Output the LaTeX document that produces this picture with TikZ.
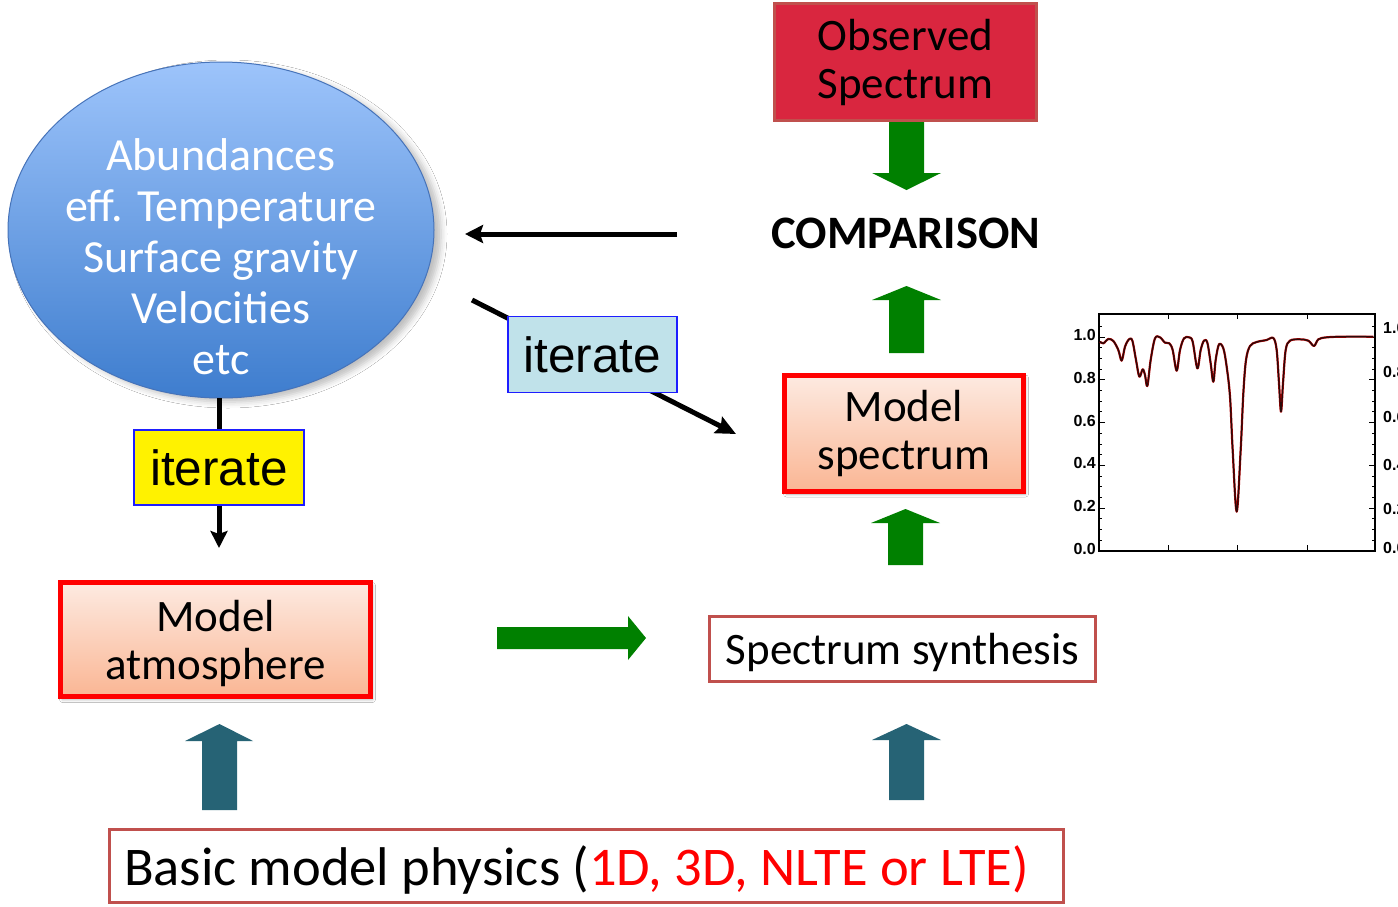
\documentclass[tikz,border=0pt]{standalone}
\usepackage{fontspec}
\setmainfont{Carlito}
\newfontfamily\arialf{Liberation Sans}
\usetikzlibrary{shapes.geometric,arrows.meta,shadows.blur}

\definecolor{obsred}{RGB}{217,38,63}
\definecolor{boxborder}{RGB}{192,80,77}
\definecolor{arrgreen}{RGB}{0,128,0}
\definecolor{arrteal}{RGB}{38,99,117}
\definecolor{elltop}{RGB}{157,196,251}
\definecolor{ellbot}{RGB}{62,125,206}
\definecolor{ellline}{RGB}{70,115,185}
\definecolor{modtop}{RGB}{253,234,225}
\definecolor{modbot}{RGB}{250,182,148}
\definecolor{itblue}{RGB}{192,226,234}
\definecolor{itline}{RGB}{30,30,255}
\definecolor{specline}{RGB}{70,15,15}

\begin{document}
\begin{tikzpicture}[x=1pt,y=-1pt,
  boxtext/.style={font=\fontsize{45}{48}\selectfont, align=center, inner sep=0pt},
  modelbox/.style={boxtext, draw=red, line width=5pt, top color=modtop, bottom color=modbot,
     blur shadow={shadow xshift=2pt, shadow yshift=-3pt, shadow blur radius=3pt, shadow opacity=30}},
  plainbox/.style={boxtext, draw=boxborder, line width=3pt, fill=white},
  iterbox/.style={font=\arialf\fontsize{49.5}{52}\selectfont, inner sep=0pt, line width=1.5pt, draw=itline},
  blackarrow/.style={draw=black, line width=5pt, -{Stealth[length=18pt,width=18pt,inset=3pt]}},
  tick/.style={line width=1pt},
  ticklabel/.style={font=\arialf\bfseries\fontsize{16}{17}\selectfont, inner sep=0pt}
]
\useasboundingbox (0,0) rectangle (1398,906);
\fill[white] (0,0) rectangle (1398,906);

% ---------- parameter ellipse ----------
\node[ellipse, minimum width=426pt, minimum height=336pt, inner sep=0pt,
      top color=elltop, bottom color=ellbot, draw=ellline, line width=1pt,
      blur shadow={shadow xshift=7pt, shadow yshift=-4pt, shadow blur radius=6pt, shadow opacity=25}]
      (params) at (221,230) {};
\node[text=white, font=\fontsize{46}{51}\selectfont, align=center, inner sep=0pt] (paramtext) at (221,257)
  {Abundances\\eff. Temperature\\Surface gravity\\Velocities\\etc};

% ---------- block arrows ----------
% green: observed -> comparison
\fill[arrgreen] (889,121) -- (924,121) -- (924,173) -- (941,173) -- (906.5,190) -- (872,173) -- (889,173) -- cycle;
% green: model spectrum -> comparison
\fill[arrgreen] (889,353) -- (924,353) -- (924,300) -- (941,300) -- (906.5,286) -- (872,300) -- (889,300) -- cycle;
% green: synthesis -> model spectrum
\fill[arrgreen] (888,565) -- (923,565) -- (923,523) -- (940,523) -- (905.5,509) -- (871,523) -- (888,523) -- cycle;
% green: atmosphere -> synthesis
\fill[arrgreen] (497,627) -- (628,627) -- (628,616) -- (646,638) -- (628,660) -- (628,649) -- (497,649) -- cycle;
% teal: physics -> atmosphere
\fill[arrteal] (202,810) -- (237,810) -- (237,741) -- (253,741) -- (219.5,724) -- (185,741) -- (202,741) -- cycle;
% teal: physics -> synthesis
\fill[arrteal] (889,800) -- (924,800) -- (924,740) -- (941,740) -- (906.5,724) -- (872,740) -- (889,740) -- cycle;

% ---------- boxes ----------
\node[boxtext, fill=obsred, draw=boxborder, line width=3pt, minimum width=262pt, minimum height=117pt]
  (observed) at (905.5,62) {Observed\\Spectrum};
\node[font=\bfseries\fontsize{46.5}{48}\selectfont, inner sep=0pt] (comparison) at (906,233) {COMPARISON};
\node[modelbox, minimum width=239pt, minimum height=116pt] (modelspec) at (904,433) {Model\\spectrum};
\node[modelbox, minimum width=310pt, minimum height=114pt, text depth=0pt] (modelatm) at (215.5,639.5) {Model\\atmosphere};
\node[plainbox, minimum width=386pt, minimum height=65pt, text depth=0pt] (synth) at (902.5,649) {Spectrum synthesis};
\node[plainbox, minimum height=73pt, inner xsep=14.5pt, text depth=0pt,
      font=\fontsize{54.5}{58}\selectfont]
  (physics) at (586.5,866) {\makebox[925pt][l]{Basic model physics (\textcolor{red}{1D, 3D, NLTE or LTE)}}};

% ---------- black connectors ----------
\coordinate (cmpleft) at (677,234);
\coordinate (ellright) at (465,234);
\draw[blackarrow] (cmpleft) -- (ellright);

\coordinate (ellbottom) at (219,398);
\coordinate (atmtop) at (219,548);
\draw[blackarrow, -{Stealth[length=17pt,width=17pt,inset=3pt]}] (ellbottom) -- (atmtop);
\node[iterbox, fill=yellow, minimum width=170pt, minimum height=75pt] (iterA) at (219,467.5) {iterate};

\coordinate (ellside) at (472,300);
\coordinate (spectarget) at (736,434);
\draw[blackarrow, -{Stealth[length=20pt,width=18pt,inset=3pt]}] (ellside) -- (spectarget);
\node[iterbox, fill=itblue, minimum width=169pt, minimum height=76pt] (iterB) at (592.5,354.5) {iterate};

% ---------- spectrum plot ----------
\draw[line width=1.2pt] (1099,314) rectangle (1375,551);
\foreach \i in {1,...,21} {
  \draw[tick] (1099,{551-10.7*\i}) -- (1102,{551-10.7*\i});
  \draw[tick] (1375,{551-10.7*\i}) -- (1372,{551-10.7*\i});
}
\foreach \i/\lab in {0/0.0,1/0.2,2/0.4,3/0.6,4/0.8,5/1.0} {
  \draw[tick] (1099,{551-42.8*\i}) -- (1105,{551-42.8*\i});
  \draw[tick] (1375,{551-42.8*\i}) -- (1369,{551-42.8*\i});
  \node[ticklabel, anchor=east] at (1096,{551-42.8*\i-2}) {\lab};
}
\foreach \yy/\lab in {548/0.0,509/0.2,465/0.4,417/0.6,372/0.8,328/1.0} {
  \node[ticklabel, anchor=west] at (1383,\yy) {\lab};
}
\foreach \xx in {1168,1237,1307} {
  \draw[tick] (\xx,551) -- (\xx,545);
  \draw[tick] (\xx,314) -- (\xx,319);
}
\begin{scope}[shift={(1060,310)}, x=0.33333pt, y=-0.33333pt]
\draw[red!70!black, line width=2.2pt, line join=round] plot[smooth, tension=0.55] coordinates {
(120,95) (130,100) (145,87) (160,93) (175,120) (185,152) (195,110) (207,88) (217,92)
(228,150) (238,200) (248,178) (255,195) (262,228) (272,150) (285,85) (300,82) (315,98)
(328,100) (338,120) (350,182) (360,120) (372,85) (387,82) (398,95) (412,175) (422,120)
(432,92) (442,98) (452,160) (460,215) (467,150) (477,103) (490,115) (500,170) (510,260)
(518,420) (530,605) (542,420) (550,250) (558,150) (570,108) (590,96) (620,90) (640,84)
(650,120) (657,220) (663,305) (669,220) (677,120) (690,92) (720,88) (745,92) (762,108)
(775,88) (800,82) (850,80) (940,80)};
\draw[specline!60!black, line width=1.3pt, line join=round] plot[smooth, tension=0.55] coordinates {
(120,95) (130,100) (145,87) (160,93) (175,120) (185,152) (195,110) (207,88) (217,92)
(228,150) (238,200) (248,178) (255,195) (262,228) (272,150) (285,85) (300,82) (315,98)
(328,100) (338,120) (350,182) (360,120) (372,85) (387,82) (398,95) (412,175) (422,120)
(432,92) (442,98) (452,160) (460,215) (467,150) (477,103) (490,115) (500,170) (510,260)
(518,420) (530,605) (542,420) (550,250) (558,150) (570,108) (590,96) (620,90) (640,84)
(650,120) (657,220) (663,305) (669,220) (677,120) (690,92) (720,88) (745,92) (762,108)
(775,88) (800,82) (850,80) (940,80)};
\end{scope}
\end{tikzpicture}
\end{document}
